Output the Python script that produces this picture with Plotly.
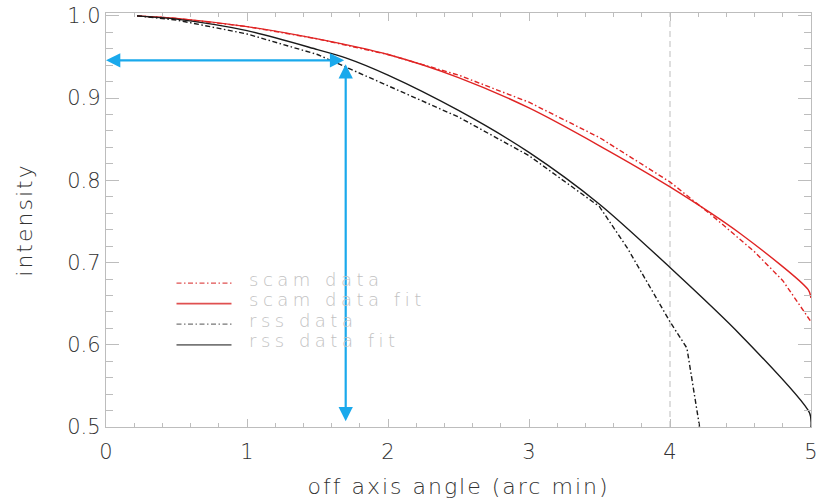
import plotly.graph_objects as go

# ---------------- data ----------------
scam_x = [0.22, 0.5, 1.0, 1.5, 2.0, 2.5, 3.0, 3.5, 4.0, 4.3, 4.6, 4.8, 5.0]
scam_y = [1.0, 0.997, 0.987, 0.972, 0.953, 0.928, 0.895, 0.852, 0.798, 0.757, 0.713, 0.678, 0.628]

scam_fit_x = [0.22, 0.5, 1.0, 1.5, 2.0, 2.5, 3.0, 3.5, 4.0, 4.5, 4.98, 5.0]
scam_fit_y = [1.0, 0.997, 0.987, 0.972, 0.953, 0.925, 0.888, 0.842, 0.792, 0.735, 0.667, 0.657]

rss_x = [0.22, 0.5, 1.0, 1.5, 2.0, 2.5, 3.0, 3.5, 3.7, 4.0, 4.12, 4.21]
rss_y = [1.0, 0.995, 0.978, 0.953, 0.915, 0.877, 0.83, 0.768, 0.717, 0.628, 0.596, 0.50]

rss_fit_x = [0.22, 0.5, 1.0, 1.5, 1.7, 2.0, 2.5, 3.0, 3.5, 4.0, 4.5, 4.99, 5.0]
rss_fit_y = [1.0, 0.996, 0.982, 0.959, 0.949, 0.928, 0.885, 0.834, 0.771, 0.694, 0.612, 0.517, 0.5]

legend_labels = ["scam data", "scam data fit", "rss data", "rss data fit"]

x_tick_step = 1
y_tick_step = 0.1

ref_x = 4.0             # dashed vertical reference line
arrow_x = 1.70          # marker arrows
arrow_y = 0.946
arrow_y_top = 0.943
arrow_y_bottom = 0.507

# ---------------- styles ----------------
RED = "#e02424"
BLACK = "#1a1a1a"
DASHDOT = "5px,2.5px,1.5px,2.5px"
BLUE = "#1aa9ec"
AXIS = "#bdbdbd"
TXT = "#333333"
FONT = "DejaVu Sans, Liberation Sans, sans-serif"
W = 200  # thin weight

series = [
    (scam_x, scam_y, RED, DASHDOT, "linear"),
    (scam_fit_x, scam_fit_y, RED, "solid", "spline"),
    (rss_x, rss_y, BLACK, DASHDOT, "linear"),
    (rss_fit_x, rss_fit_y, BLACK, "solid", "spline"),
]

fig = go.Figure()
for (xs, ys, col, dash, shp), name in zip(series, legend_labels):
    fig.add_trace(go.Scatter(x=xs, y=ys, mode="lines", name=name,
                             line=dict(color=col, width=1.4, dash=dash, shape=shp, smoothing=0.8),
                             showlegend=False, hoverinfo="skip"))

# reference dashed line
fig.add_shape(type="line", xref="x", yref="paper", x0=ref_x, x1=ref_x, y0=0, y1=1,
              line=dict(color="#d4d4d4", width=1.5, dash="6px,4px"), layer="below")

# arrows
fig.add_annotation(x=0, y=arrow_y, ax=arrow_x, ay=arrow_y, xref="x", yref="y",
                   axref="x", ayref="y", text="", showarrow=True, arrowhead=2,
                   startarrowhead=2, arrowside="end+start", arrowsize=1.3,
                   startarrowsize=1.3, arrowwidth=2.2, arrowcolor=BLUE)
fig.add_annotation(x=arrow_x, y=arrow_y_bottom, ax=arrow_x, ay=arrow_y_top, xref="x", yref="y",
                   axref="x", ayref="y", text="", showarrow=True, arrowhead=2,
                   startarrowhead=2, arrowside="end+start", arrowsize=1.3,
                   startarrowsize=1.3, arrowwidth=2.2, arrowcolor=BLUE)

# custom legend (in data coordinates)
leg_x0, leg_x1, leg_tx = 0.50, 0.89, 1.00
leg_y0, leg_dy = 0.675, 0.025
for i, ((xs, ys, col, dash, shp), name) in enumerate(zip(series, legend_labels)):
    yy = leg_y0 - i * leg_dy
    lc = "#e05050" if col == RED else "#777777"
    fig.add_shape(type="line", xref="x", yref="y", x0=leg_x0, x1=leg_x1, y0=yy, y1=yy,
                  line=dict(color=lc, width=1.8 if dash == "solid" else 1.3, dash=dash))
    fig.add_annotation(x=leg_tx, y=yy, xref="x", yref="y", yshift=4,
                       text='<span style="letter-spacing:4.5px">%s</span>' % name,
                       showarrow=False, xanchor="left", yanchor="middle",
                       font=dict(family=FONT, size=18, color="#c2c2c2", weight=W))

axis_common = dict(showline=True, linecolor=AXIS, linewidth=1.3, mirror="ticks",
                   ticks="inside", tickcolor=AXIS, tickwidth=1.2,
                   showgrid=False, zeroline=False, automargin=False,
                   tickfont=dict(family=FONT, size=21, color=TXT, weight=W))

fig.update_xaxes(range=[0, 5], tickmode="linear", tick0=0, dtick=x_tick_step, ticklen=8,
                 ticklabelstandoff=6,
                 minor=dict(dtick=x_tick_step / 5, ticklen=4, tickcolor=AXIS, ticks="inside",
                            showgrid=False),
                 title=dict(text='<span style="letter-spacing:2px">off axis angle (arc min)</span>',
                            standoff=18,
                            font=dict(family=FONT, size=22, color=TXT, weight=W)),
                 **axis_common)
fig.update_yaxes(range=[0.5, 1.0035], tickmode="linear", tick0=0.5, dtick=y_tick_step,
                 tickformat=".1f", ticklen=13, ticklabelstandoff=0,
                 minor=dict(dtick=y_tick_step / 5, ticklen=7, tickcolor=AXIS, ticks="inside",
                            showgrid=False),
                 title=dict(text='<span style="letter-spacing:2px">intensity</span>', standoff=28,
                            font=dict(family=FONT, size=22, color=TXT, weight=W)),
                 **axis_common)

fig.update_layout(width=819, height=499, margin=dict(l=106, r=8, t=13, b=72),
                  plot_bgcolor="white", paper_bgcolor="white", showlegend=False)

fig.write_html("out.html")
